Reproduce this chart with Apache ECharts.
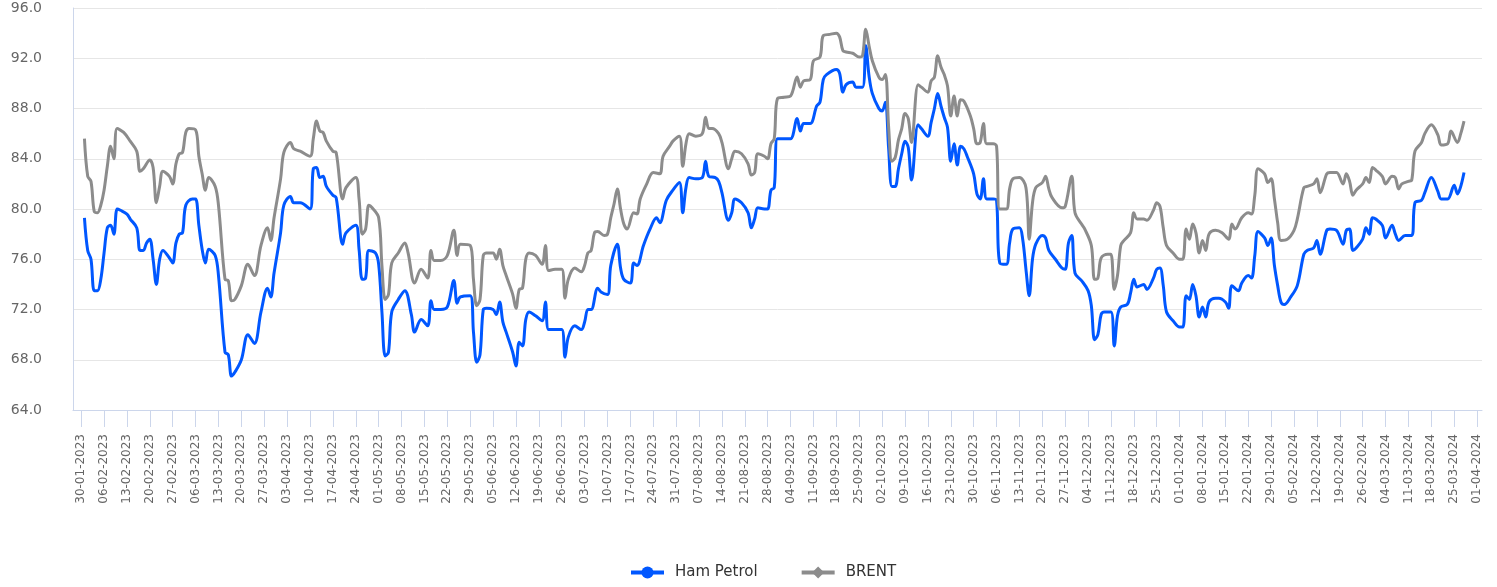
<!DOCTYPE html>
<html>
<head>
<meta charset="utf-8">
<title>Ham Petrol - BRENT</title>
<script src="https://cdn.jsdelivr.net/npm/echarts@6/dist/echarts.min.js"></script>
<style>
  html, body { margin: 0; padding: 0; background: #fff; }
  #chart { width: 1497px; height: 587px; }
</style>
</head>
<body>
<div id="chart"></div>
<script>
// days counted from Monday 30-01-2023 (day 0)
const brentDay = [
  1, 2, 3, 4, 5, 6, 7, 8, 9, 10,
  11, 13, 15, 17, 18, 19, 21, 22, 23, 24,
  25, 27, 28, 29, 30, 31, 32, 33, 35, 36,
  37, 38, 39, 41, 42, 44, 45, 46, 47, 49,
  51, 53, 55, 57, 58, 59, 61, 62, 64, 65,
  67, 70, 71, 72, 73, 74, 75, 77, 78, 80,
  81, 84, 85, 86, 87, 88, 89, 91, 92, 93,
  94, 95, 97, 99, 100, 102, 104, 106, 107, 108,
  110, 112, 114, 115, 116, 119, 120, 121, 122, 123,
  124, 126, 127, 128, 129, 130, 132, 133, 134, 135,
  136, 137, 139, 141, 142, 143, 145, 147, 148, 149,
  151, 153, 154, 155, 156, 157, 158, 160, 161, 162,
  163, 164, 165, 166, 167, 169, 170, 171, 173, 175,
  177, 178, 180, 181, 183, 184, 185, 186, 188, 190,
  191, 192, 193, 195, 196, 198, 199, 200, 202, 204,
  205, 206, 207, 209, 210, 211, 212, 213, 215, 217,
  219, 220, 221, 223, 224, 226, 227, 229, 231, 232,
  233, 234, 236, 238, 239, 240, 241, 242, 244, 245,
  246, 247, 248, 249, 250, 251, 252, 253, 254, 256,
  257, 259, 260, 261, 262, 263, 264, 265, 266, 267,
  268, 269, 270, 272, 273, 274, 275, 276, 277, 279,
  280, 281, 283, 284, 285, 287, 289, 290, 291, 292,
  294, 295, 296, 297, 300, 301, 303, 304, 306, 307,
  309, 310, 311, 312, 314, 315, 316, 317, 318, 319,
  321, 322, 323, 325, 326, 328, 329, 330, 331, 332,
  334, 336, 337, 338, 339, 340, 341, 342, 343, 344,
  345, 347, 349, 351, 352, 353, 355, 357, 358, 359,
  360, 362, 363, 364, 365, 366, 367, 369, 371, 372,
  374, 375, 377, 378, 379, 381, 382, 384, 386, 387,
  388, 389, 390, 392, 393, 394, 395, 396, 398, 399,
  401, 402, 403, 404, 406, 407, 408, 410, 411, 413,
  415, 416, 418, 419, 421, 422, 423
];
const brentValue = [
  85.6, 82.6, 82.2, 79.8, 79.7, 80.3, 81.5, 83.4, 85.0, 84.0,
  86.4, 86.1, 85.4, 84.6, 83.0, 83.2, 83.9, 83.3, 80.5, 81.8,
  83.0, 82.6, 82.0, 83.6, 84.4, 84.5, 86.1, 86.4, 86.3, 84.2,
  82.8, 81.5, 82.5, 81.8, 80.3, 74.4, 74.3, 72.7, 72.8, 73.9,
  75.6, 74.7, 77.1, 78.5, 77.5, 79.3, 82.4, 84.5, 85.3, 84.8,
  84.6, 84.2, 85.6, 87.0, 86.2, 86.1, 85.4, 84.6, 84.5, 80.8,
  81.7, 82.5, 80.8, 78.0, 78.4, 80.3, 80.1, 79.3, 75.5, 72.8,
  73.2, 75.7, 76.5, 77.3, 76.5, 74.1, 75.2, 74.5, 76.7, 75.9,
  75.9, 76.3, 78.3, 76.3, 77.2, 77.1, 74.4, 72.3, 72.8, 76.3,
  76.5, 76.5, 76.0, 76.8, 75.5, 74.7, 73.2, 72.1, 73.6, 73.7,
  76.0, 76.5, 76.3, 75.6, 77.1, 75.1, 75.2, 75.2, 72.9, 74.4,
  75.3, 75.0, 75.5, 76.5, 76.7, 78.1, 78.2, 77.9, 78.0, 79.3,
  80.4, 81.6, 80.0, 78.8, 78.4, 79.7, 79.6, 80.8, 82.0, 82.9,
  82.8, 84.2, 85.0, 85.4, 85.8, 83.4, 85.2, 86.0, 85.8, 86.0,
  87.3, 86.4, 86.4, 86.0, 85.3, 83.2, 84.0, 84.6, 84.4, 83.6,
  82.7, 82.9, 84.4, 84.2, 84.0, 85.2, 85.6, 88.8, 88.9, 89.0,
  90.5, 89.7, 90.2, 90.3, 91.8, 92.1, 93.8, 93.9, 94.0, 93.7,
  92.6, 92.5, 92.4, 92.1, 92.2, 94.3, 93.0, 91.8, 90.5, 90.3,
  90.7, 86.5, 83.8, 84.1, 85.5, 86.4, 87.6, 87.2, 85.3, 89.9,
  89.7, 89.3, 90.2, 90.5, 92.2, 91.3, 90.7, 89.8, 87.4, 89.0,
  87.4, 88.7, 88.6, 87.4, 86.4, 85.2, 85.3, 86.8, 85.2, 85.2,
  85.0, 80.0, 80.0, 81.6, 82.4, 82.5, 81.7, 77.6, 80.5, 81.7,
  82.1, 82.6, 81.6, 80.9, 80.1, 80.2, 82.6, 79.7, 78.8, 78.4,
  77.1, 74.4, 74.5, 76.1, 76.4, 76.4, 73.6, 74.7, 77.1, 77.5,
  78.1, 79.7, 79.2, 79.2, 79.1, 79.9, 80.5, 80.2, 78.5, 77.1,
  76.5, 76.0, 76.0, 78.4, 77.6, 78.8, 78.1, 76.5, 77.5, 76.7,
  78.0, 78.3, 78.1, 77.6, 78.8, 78.4, 79.3, 79.7, 79.6, 81.1,
  83.2, 82.8, 82.1, 82.4, 80.8, 78.9, 77.5, 77.6, 78.3, 79.2,
  81.7, 81.8, 82.0, 82.4, 81.3, 82.8, 82.9, 82.9, 82.0, 82.8,
  82.2, 81.1, 81.5, 82.0, 82.5, 82.1, 83.3, 83.1, 82.6, 82.0,
  82.6, 82.5, 81.6, 82.0, 82.2, 82.3, 84.6, 85.3, 86.0, 86.7,
  85.9, 85.1, 85.2, 86.2, 85.3, 86.0, 87.0
];

const hamDay = [
  1, 2, 3, 4, 5, 6, 7, 8, 9, 10,
  11, 12, 14, 15, 17, 18, 19, 20, 21, 22,
  23, 24, 25, 27, 28, 29, 30, 31, 32, 34,
  35, 36, 37, 38, 39, 41, 42, 44, 45, 46,
  47, 49, 51, 53, 55, 57, 58, 59, 61, 62,
  64, 65, 67, 70, 71, 72, 73, 74, 75, 77,
  78, 80, 81, 84, 85, 86, 87, 88, 90, 91,
  92, 93, 94, 95, 97, 99, 101, 102, 104, 106,
  107, 108, 110, 112, 114, 115, 116, 119, 120, 121,
  122, 123, 124, 126, 127, 128, 129, 130, 132, 133,
  134, 135, 136, 137, 139, 141, 142, 143, 145, 147,
  148, 149, 151, 153, 154, 155, 156, 158, 159, 161,
  162, 164, 165, 166, 168, 169, 170, 172, 174, 176,
  177, 179, 181, 183, 184, 185, 186, 188, 190, 191,
  192, 194, 195, 196, 198, 199, 200, 202, 204, 205,
  206, 207, 209, 210, 211, 212, 213, 215, 217, 219,
  220, 221, 223, 225, 226, 227, 228, 231, 232, 233,
  234, 236, 237, 239, 240, 241, 242, 244, 245, 246,
  247, 248, 249, 250, 251, 252, 253, 254, 256, 257,
  259, 260, 261, 262, 263, 264, 265, 266, 267, 268,
  269, 270, 271, 273, 274, 275, 276, 277, 279, 280,
  281, 283, 284, 285, 287, 288, 289, 290, 291, 292,
  294, 295, 296, 298, 300, 301, 302, 303, 304, 306,
  308, 309, 310, 311, 312, 313, 315, 316, 317, 318,
  320, 321, 322, 323, 325, 326, 328, 329, 330, 331,
  332, 334, 336, 337, 338, 339, 340, 341, 342, 343,
  344, 345, 347, 348, 350, 351, 352, 354, 355, 357,
  358, 359, 360, 362, 363, 364, 365, 366, 367, 368,
  370, 372, 374, 375, 377, 378, 379, 381, 382, 384,
  386, 387, 388, 389, 390, 392, 393, 394, 395, 396,
  398, 399, 401, 402, 403, 405, 407, 408, 410, 411,
  413, 415, 416, 418, 420, 421, 422, 423
];
const hamValue = [
  79.3, 76.7, 76.0, 73.5, 73.5, 74.4, 76.5, 78.5, 78.7, 78.0,
  80.0, 79.9, 79.6, 79.2, 78.5, 76.7, 76.7, 77.3, 77.6, 76.0,
  74.0, 76.0, 76.7, 76.1, 75.7, 77.3, 78.0, 78.1, 80.3, 80.8,
  80.8, 78.7, 76.8, 75.7, 76.8, 76.3, 74.7, 68.6, 68.4, 66.7,
  67.0, 68.0, 70.0, 69.3, 71.8, 73.7, 73.0, 74.9, 78.1, 80.3,
  81.0, 80.5, 80.5, 80.0, 83.2, 83.3, 82.5, 82.6, 81.8, 81.1,
  80.9, 77.2, 78.1, 78.7, 76.8, 74.4, 74.5, 76.7, 76.5, 75.6,
  71.8, 68.3, 68.6, 71.8, 72.8, 73.5, 71.6, 70.2, 71.2, 70.7,
  72.7, 72.0, 72.0, 72.2, 74.3, 72.5, 73.0, 73.1, 70.2, 67.8,
  68.4, 72.0, 72.1, 72.0, 71.6, 72.6, 71.0, 70.2, 68.6, 67.5,
  69.4, 69.1, 71.2, 71.8, 71.5, 71.1, 72.6, 70.4, 70.4, 70.4,
  68.2, 69.8, 70.7, 70.4, 71.0, 72.0, 72.0, 73.7, 73.4, 73.2,
  75.5, 77.2, 75.3, 74.4, 74.1, 75.7, 75.5, 77.1, 78.4, 79.3,
  78.9, 80.7, 81.5, 82.1, 79.7, 81.7, 82.5, 82.4, 82.5, 83.8,
  82.6, 82.5, 82.2, 81.3, 79.1, 79.7, 80.8, 80.5, 79.7, 78.5,
  79.2, 80.1, 80.0, 80.0, 81.5, 81.7, 85.6, 85.6, 85.6, 87.2,
  86.2, 86.8, 86.8, 88.2, 88.5, 90.3, 90.7, 91.1, 90.8, 89.3,
  89.9, 90.1, 89.7, 89.7, 93.0, 90.6, 89.2, 88.0, 87.8, 88.5,
  84.8, 81.8, 81.8, 83.2, 84.4, 85.4, 84.9, 82.3, 86.7, 86.4,
  85.8, 86.9, 88.0, 89.2, 88.2, 87.3, 86.5, 83.8, 85.2, 83.5,
  85.0, 84.8, 84.2, 82.8, 81.2, 80.8, 82.4, 80.8, 80.8, 80.7,
  75.7, 75.6, 77.3, 78.4, 78.5, 77.6, 75.2, 73.1, 76.0, 77.2,
  77.9, 77.7, 76.7, 76.0, 75.3, 75.2, 77.3, 77.9, 74.9, 74.3,
  73.5, 72.3, 69.6, 70.0, 71.6, 71.8, 71.8, 69.1, 71.5, 72.2,
  72.4, 73.3, 74.4, 73.8, 74.0, 73.6, 74.5, 75.2, 75.3, 73.9,
  71.8, 71.1, 70.6, 70.6, 73.1, 72.8, 74.0, 73.1, 71.4, 72.2,
  71.4, 72.6, 72.9, 72.9, 72.6, 72.1, 73.9, 73.5, 74.1, 74.7,
  74.5, 76.3, 78.2, 77.7, 77.1, 77.7, 75.5, 73.9, 72.6, 72.4,
  73.0, 73.9, 76.4, 76.7, 76.9, 77.5, 76.4, 78.3, 78.4, 78.3,
  77.2, 78.3, 78.4, 76.7, 76.9, 77.6, 78.5, 78.0, 79.3, 79.2,
  78.7, 77.7, 78.7, 78.0, 77.5, 77.9, 77.9, 80.5, 80.7, 81.3,
  82.5, 81.4, 80.8, 80.8, 81.9, 81.2, 81.8, 82.9
];

// axis runs one day-band from 28-01-2023 to 02-04-2024, labels every Monday
const axisStart = Date.UTC(2023, 0, 28);
const axisDays = 431;
const firstLabel = 2; // index of 30-01-2023

function pad(n) {
  return n < 10 ? '0' + n : '' + n;
}
function fmtDate(t) {
  const d = new Date(t);
  return pad(d.getUTCDate()) + '-' + pad(d.getUTCMonth() + 1) + '-' + d.getUTCFullYear();
}

const categories = [];
for (let i = 0; i < axisDays; i++) {
  categories.push(fmtDate(axisStart + i * 86400000));
}

function onMonday(index) {
  return (index - firstLabel) % 7 === 0 && index >= firstLabel;
}

const chart = echarts.init(document.getElementById('chart'), null, { renderer: 'canvas' });

const option = {
  animation: false,
  backgroundColor: '#ffffff',
  grid: { left: 73, right: 15, top: 8, bottom: 177 },
  legend: {
    bottom: 2,
    left: 624,
    itemWidth: 33,
    itemHeight: 15,
    itemGap: 42,
    lineStyle: { width: 4 },
    textStyle: { fontSize: 15, color: '#333333', fontFamily: 'DejaVu Sans', padding: [0, 0, 0, 6] },
    data: ['Ham Petrol', 'BRENT']
  },
  xAxis: {
    type: 'category',
    data: categories,
    boundaryGap: true,
    axisLine: { show: true, lineStyle: { color: '#ccd6eb', width: 1 } },
    axisTick: {
      show: true,
      alignWithLabel: true,
      interval: onMonday,
      length: 17,
      lineStyle: { color: '#ccd6eb', width: 1 }
    },
    axisLabel: {
      interval: onMonday,
      rotate: 90,
      margin: 24,
      fontSize: 12,
      color: '#666666',
      fontFamily: 'DejaVu Sans'
    },
    splitLine: { show: false }
  },
  yAxis: {
    type: 'value',
    min: 64,
    max: 96,
    interval: 4,
    axisLine: { show: true, lineStyle: { color: '#ccd6eb', width: 1 } },
    axisTick: { show: false },
    axisLabel: {
      formatter: function (v) { return v.toFixed(1); },
      margin: 31,
      fontSize: 14,
      color: '#666666',
      fontFamily: 'DejaVu Sans'
    },
    splitLine: { show: true, lineStyle: { color: '#e6e6e6', width: 1 } }
  },
  series: [
    {
      name: 'Ham Petrol',
      type: 'line',
      data: hamDay.map((d, i) => [categories[d + firstLabel], hamValue[i]]),
      smooth: 0.35,
      symbol: 'circle',
      symbolSize: 11,
      showSymbol: false,
      color: '#0057ff',
      lineStyle: { width: 3, color: '#0057ff' },
      itemStyle: { color: '#0057ff' }
    },
    {
      name: 'BRENT',
      type: 'line',
      data: brentDay.map((d, i) => [categories[d + firstLabel], brentValue[i]]),
      smooth: 0.35,
      symbol: 'diamond',
      symbolSize: 11,
      showSymbol: false,
      color: '#8c8c8c',
      lineStyle: { width: 3, color: '#8c8c8c' },
      itemStyle: { color: '#8c8c8c' }
    }
  ]
};

chart.setOption(option);
</script>
</body>
</html>
